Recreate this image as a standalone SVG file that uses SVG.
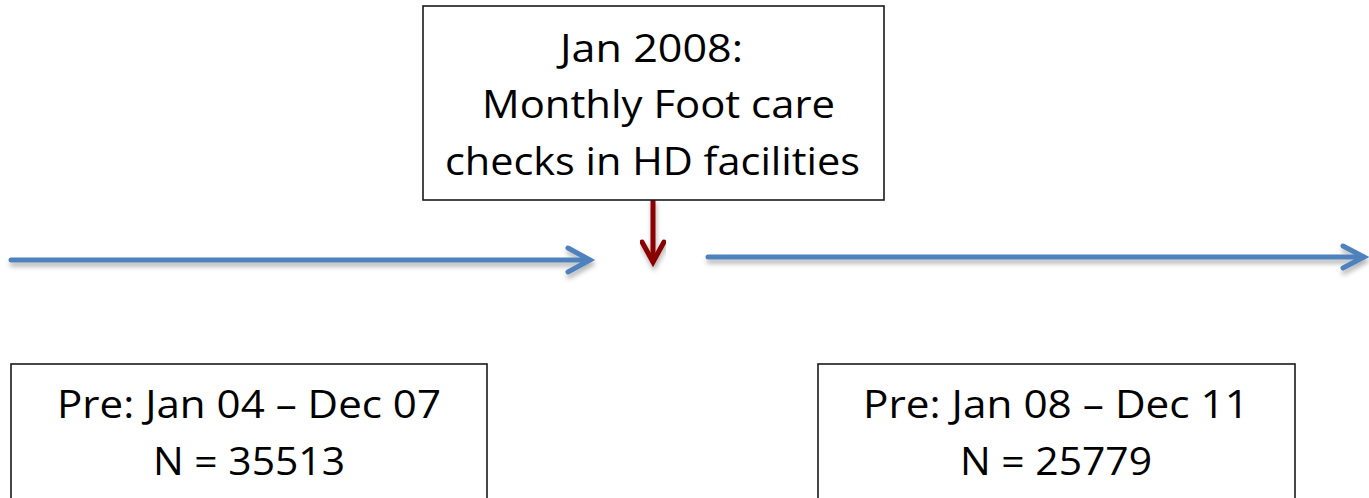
<svg xmlns="http://www.w3.org/2000/svg" width="1369" height="498" viewBox="0 0 1369 498">
  <defs>
    <filter id="shadow" x="-5%" y="-50%" width="110%" height="300%">
      <feDropShadow dx="1" dy="4" stdDeviation="2.5" flood-color="#000" flood-opacity="0.3"/>
    </filter>
  </defs>
  <style>
    .box { fill: #ffffff; stroke: #1a1a1a; stroke-width: 1.6; }
    .lbl { font-family: "Open Sans", "Noto Sans", sans-serif; font-size: 39px; fill: #000; text-anchor: middle; }
    .blue { fill: none; stroke: #4F81BD; stroke-width: 5; stroke-linecap: round; stroke-linejoin: miter; }
    .red { fill: none; stroke: #8B0000; stroke-width: 5; stroke-linecap: round; stroke-linejoin: miter; }
  </style>
  <rect width="1369" height="498" fill="#ffffff"/>

  <g id="connectors">
    <g filter="url(#shadow)">
      <path class="blue" d="M11,260 L589,260"/>
      <path class="blue" d="M568,248 L590,260 L568,272"/>
    </g>
    <g filter="url(#shadow)">
      <path class="blue" d="M708,257 L1363,257"/>
      <path class="blue" d="M1343,246 L1364,257 L1343,268"/>
    </g>
    <g filter="url(#shadow)">
      <path class="red" d="M653,201 L653,261"/>
      <path class="red" d="M642,242 L653,262 L664,242"/>
    </g>
  </g>

  <g id="node-intervention">
    <rect class="box" x="423" y="6" width="461" height="194"/>
    <text class="lbl" x="651.5" y="62" textLength="183" lengthAdjust="spacingAndGlyphs">Jan 2008:</text>
    <text class="lbl" x="658.5" y="118" textLength="353" lengthAdjust="spacingAndGlyphs">Monthly Foot care</text>
    <text class="lbl" x="652.5" y="175" textLength="415" lengthAdjust="spacingAndGlyphs">checks in HD facilities</text>
  </g>

  <g id="node-pre">
    <rect class="box" x="11" y="364" width="476" height="160"/>
    <text class="lbl" x="249" y="418" textLength="384" lengthAdjust="spacingAndGlyphs">Pre: Jan 04 – Dec 07</text>
    <text class="lbl" x="249" y="475" textLength="192" lengthAdjust="spacingAndGlyphs">N = 35513</text>
  </g>

  <g id="node-post">
    <rect class="box" x="818" y="364" width="477" height="160"/>
    <text class="lbl" x="1056" y="418" textLength="386" lengthAdjust="spacingAndGlyphs">Pre: Jan 08 – Dec 11</text>
    <text class="lbl" x="1056" y="475" textLength="192" lengthAdjust="spacingAndGlyphs">N = 25779</text>
  </g>
</svg>
